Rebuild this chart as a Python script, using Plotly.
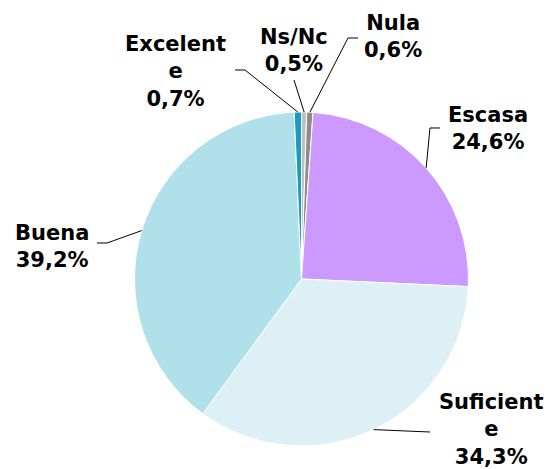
import math
import plotly.graph_objects as go

labels = ["Ns/Nc", "Nula", "Escasa", "Suficiente", "Buena", "Excelente"]
values = [0.5, 0.6, 24.6, 34.3, 39.2, 0.7]
value_text = ["0,5%", "0,6%", "24,6%", "34,3%", "39,2%", "0,7%"]
label_text = ["Ns/Nc", "Nula", "Escasa", "Suficient<br>e", "Buena", "Excelent<br>e"]
colors = ["#c0c0c0", "#8c8c8c", "#cc99ff", "#dcf0f5", "#b0e0ea", "#1a9cc0"]

W, H = 549, 469
cx, cy, R = 301.5, 279.0, 167.0

# label block centres (px) and leader-line bend points (px)
label_pos = [(294, 51), (393, 36), (488, 129), (491, 429), (52, 246), (175, 72)]
bends = [[(294, 80)], [(348, 38), (358, 38)], [(430, 128), (440, 128)],
         [(430, 432)], [(107, 243), (97, 243)], [(245, 70), (235, 70)]]

def px(x, y):
    return x / W, 1 - y / H

fig = go.Figure(go.Pie(
    labels=labels, values=values, sort=False, direction="clockwise", rotation=0,
    marker=dict(colors=colors, line=dict(color="white", width=1)),
    textinfo="none", hoverinfo="label+percent", showlegend=False,
    domain=dict(x=[(cx - R) / W, (cx + R) / W], y=[1 - (cy + R) / H, 1 - (cy - R) / H]),
))

total = sum(values)
cum = 0.0
shapes = []
annotations = []
for i, v in enumerate(values):
    mid = (cum + v / 2) / total * 2 * math.pi
    cum += v
    sx, sy = cx + R * math.sin(mid), cy - R * math.cos(mid)
    pts = [(sx, sy)] + bends[i]
    path = "M " + " L ".join(f"{px(x, y)[0]:.5f},{px(x, y)[1]:.5f}" for x, y in pts)
    shapes.append(dict(type="path", xref="paper", yref="paper", path=path,
                       line=dict(color="black", width=1)))
    lx, ly = label_pos[i]
    ax, ay = px(lx, ly)
    annotations.append(dict(x=ax, y=ay, xref="paper", yref="paper", showarrow=False,
                            text=f"{label_text[i]}<br>{value_text[i]}",
                            xanchor="center", yanchor="middle", align="center",
                            font=dict(family="DejaVu Sans", size=21, color="black", weight="bold")))

fig.update_layout(width=W, height=H, margin=dict(l=0, r=0, t=0, b=0),
                  paper_bgcolor="white", plot_bgcolor="white",
                  shapes=shapes, annotations=annotations)
fig.write_html("out.html", config={"displayModeBar": False},
               post_script="document.body.style.margin='0';")
